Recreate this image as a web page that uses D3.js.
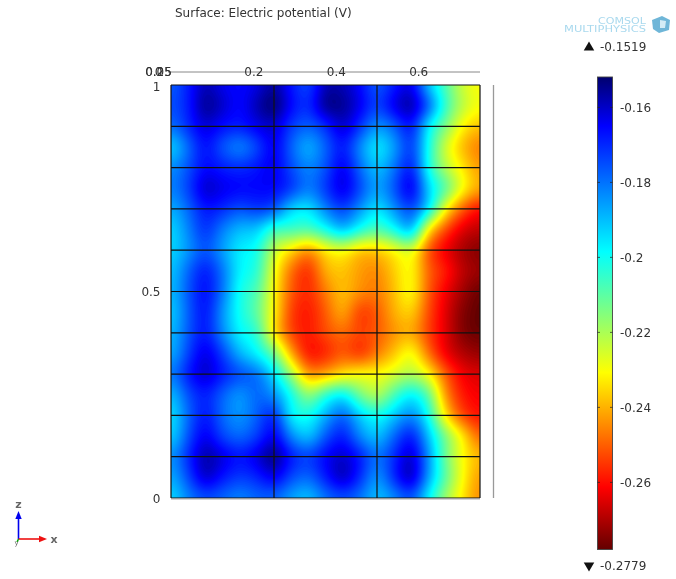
<!DOCTYPE html>
<html><head><meta charset="utf-8">
<script src="https://cdn.jsdelivr.net/npm/d3@7"></script>
<style>html,body{margin:0;padding:0;background:#fff}svg{display:block}
text{font-family:"DejaVu Sans",sans-serif;fill:#333}</style></head>
<body><svg id="c" width="676" height="579"></svg>
<script>
const titleText = "Surface: Electric potential (V)";
const xTickValues = [0.2, 0.4, 0.6];
const xCrowdedLabels = ["0", "0.05", "0.25"];
const yTickValues = [0, 0.5, 1];
const xGridValues = [0, 0.25, 0.5, 0.75];
const yGridValues = [0,0.1,0.2,0.3,0.4,0.5,0.6,0.7,0.8,0.9,1];
const legendTicks = [-0.16,-0.18,-0.2,-0.22,-0.24,-0.26];
const maxValue = -0.1519, minValue = -0.2779;
const xExtent = [0, 0.75], yExtent = [0, 1];

// Electric potential (V), top row (z = 1) to bottom (z = 0).
const z100=[-.177,-.168,-.158,-.163,-.165,-.162,-.156,-.167,-.173,-.158,-.158,-.165,-.176,-.168,-.163,-.190,-.208,-.224,-.230];
const z095=[-.175,-.168,-.155,-.160,-.165,-.158,-.152,-.165,-.170,-.155,-.155,-.163,-.173,-.163,-.157,-.178,-.205,-.222,-.230];
const z090=[-.180,-.170,-.161,-.166,-.168,-.163,-.160,-.172,-.177,-.170,-.160,-.171,-.184,-.177,-.167,-.196,-.214,-.231,-.238];
const z085=[-.192,-.178,-.166,-.175,-.181,-.173,-.163,-.177,-.187,-.177,-.167,-.182,-.195,-.185,-.172,-.200,-.224,-.238,-.246];
const z080=[-.184,-.175,-.165,-.168,-.170,-.167,-.163,-.174,-.182,-.175,-.163,-.178,-.190,-.180,-.168,-.200,-.220,-.233,-.243];
const z075=[-.182,-.173,-.160,-.163,-.165,-.165,-.165,-.172,-.181,-.172,-.162,-.174,-.186,-.176,-.163,-.192,-.210,-.230,-.242];
const z070=[-.188,-.178,-.167,-.170,-.175,-.172,-.176,-.192,-.195,-.182,-.173,-.184,-.195,-.184,-.174,-.196,-.230,-.250,-.260];
const z065=[-.193,-.182,-.171,-.181,-.189,-.191,-.205,-.206,-.208,-.200,-.190,-.201,-.208,-.200,-.190,-.232,-.252,-.264,-.268];
const z060=[-.193,-.184,-.175,-.185,-.196,-.200,-.222,-.234,-.243,-.232,-.228,-.236,-.236,-.230,-.225,-.250,-.262,-.270,-.274];
const z055=[-.191,-.178,-.168,-.180,-.197,-.203,-.228,-.247,-.255,-.240,-.237,-.242,-.244,-.236,-.230,-.249,-.258,-.268,-.272];
const z050=[-.190,-.176,-.166,-.180,-.200,-.208,-.230,-.250,-.256,-.246,-.238,-.244,-.246,-.238,-.230,-.250,-.262,-.271,-.277];
const z045=[-.192,-.177,-.167,-.184,-.200,-.210,-.231,-.253,-.258,-.250,-.241,-.253,-.250,-.240,-.236,-.252,-.264,-.274,-.2779];
const z040=[-.190,-.176,-.167,-.182,-.197,-.204,-.232,-.252,-.258,-.252,-.248,-.253,-.250,-.243,-.240,-.253,-.264,-.274,-.277];
const z035=[-.188,-.173,-.162,-.173,-.188,-.197,-.212,-.240,-.258,-.256,-.250,-.254,-.246,-.237,-.229,-.247,-.262,-.269,-.272];
const z030=[-.182,-.168,-.160,-.168,-.175,-.180,-.195,-.218,-.242,-.240,-.233,-.230,-.230,-.225,-.220,-.230,-.250,-.262,-.265];
const z025=[-.190,-.175,-.168,-.177,-.184,-.178,-.184,-.200,-.216,-.204,-.197,-.212,-.220,-.207,-.197,-.210,-.243,-.258,-.262];
const z020=[-.195,-.178,-.167,-.178,-.184,-.177,-.170,-.196,-.200,-.188,-.178,-.192,-.200,-.191,-.183,-.200,-.233,-.252,-.259];
const z015=[-.193,-.175,-.163,-.173,-.178,-.172,-.163,-.182,-.190,-.176,-.168,-.182,-.190,-.178,-.168,-.190,-.214,-.233,-.250];
const z010=[-.185,-.170,-.157,-.162,-.167,-.162,-.154,-.168,-.173,-.165,-.160,-.168,-.180,-.170,-.160,-.184,-.212,-.230,-.240];
const z005=[-.188,-.174,-.160,-.167,-.172,-.169,-.163,-.174,-.178,-.168,-.159,-.170,-.184,-.170,-.159,-.186,-.210,-.230,-.243];
const z000=[-.194,-.182,-.175,-.178,-.182,-.178,-.178,-.186,-.190,-.180,-.175,-.180,-.190,-.183,-.176,-.197,-.218,-.233,-.245];
const potentialRows=[z100,z095,z090,z085,z080,z075,z070,z065,z060,z055,z050,z045,z040,z035,z030,z025,z020,z015,z010,z005,z000];

// Rainbow colour ramp.
const rampValues=[-0.1519,-0.165,-0.1985,-0.2146,-0.2307,-0.246,-0.2613,-0.2779];
const rampColors=["#00006e","#0000ff","#00ffff","#80ff80","#ffff00","#ff8000","#ff0000","#640000"];

const svg=d3.select("#c");
const inner=svg.append("g").style("filter","blur(0.4px)");
const x=d3.scaleLinear().domain(xExtent).range([171,480]);
const y=d3.scaleLinear().domain(yExtent).range([498,85]);
const color=d3.scaleLinear().domain(rampValues).range(rampColors).interpolate(d3.interpolateRgb).clamp(true);

// Render-time smoothing of the read grid (Catmull-Rom in value space, then a light blur).
const nR=potentialRows.length,nC=potentialRows[0].length;
const cr=(a,b,c,d,t)=>0.5*((2*b)+(-a+c)*t+(2*a-5*b+4*c-d)*t*t+(-a+3*b-3*c+d)*t*t*t);
const at=(r,c)=>potentialRows[Math.max(0,Math.min(nR-1,r))][Math.max(0,Math.min(nC-1,c))];
function sample(ry,cx){
  const r0=Math.floor(ry),c0=Math.floor(cx),tr=ry-r0,tc=cx-c0,col=[];
  for(let k=-1;k<=2;k++) col.push(cr(at(r0+k,c0-1),at(r0+k,c0),at(r0+k,c0+1),at(r0+k,c0+2),tc));
  return cr(col[0],col[1],col[2],col[3],tr);
}
const W=206,H=276,field=new Float64Array(W*H);
for(let j=0;j<H;j++)for(let i=0;i<W;i++)
  field[j*W+i]=sample((j+.5)/H*(nR-1),(i+.5)/W*(nC-1));
d3.blur2({data:field,width:W,height:H},3);
const levels=d3.range(0,141).map(i=>minValue+(maxValue-minValue)*i/140);
const contours=d3.contours().size([W,H]).thresholds(levels)(field);
const gx=d3.scaleLinear().domain([0,W]).range(xExtent),gy=d3.scaleLinear().domain([0,H]).range([1,0]);
const geo=d3.geoPath(d3.geoTransform({point(px,py){this.stream.point(x(gx(px)),y(gy(py)));}}));
svg.append("defs").append("clipPath").attr("id","plotClip").append("rect")
  .attr("x",x(0)).attr("y",y(1)).attr("width",x(.75)-x(0)).attr("height",y(0)-y(1));
const plot=inner.append("g").attr("clip-path","url(#plotClip)");
plot.append("rect").attr("x",x(0)).attr("y",y(1)).attr("width",x(.75)-x(0)).attr("height",y(0)-y(1)).attr("fill",color(minValue));
plot.selectAll("path").data(contours).join("path").attr("d",geo).attr("fill",d=>color(d.value));

// mesh
inner.append("g").selectAll("line").data(yGridValues).join("line")
  .attr("x1",x(0)).attr("x2",x(.75)).attr("y1",d=>y(d)).attr("y2",d=>y(d)).attr("stroke","#111").attr("stroke-width",1.2);
inner.append("g").selectAll("line").data(xGridValues).join("line")
  .attr("x1",d=>x(d)).attr("x2",d=>x(d)).attr("y1",y(1)).attr("y2",y(0)).attr("stroke","#111").attr("stroke-width",1.2);
inner.append("line").attr("x1",x(.75)+13.5).attr("x2",x(.75)+13.5).attr("y1",y(1)).attr("y2",y(0)).attr("stroke","#999").attr("stroke-width",1.3);
inner.append("line").attr("x1",x(0)).attr("x2",x(.75)).attr("y1",y(0)+1).attr("y2",y(0)+1).attr("stroke","#aaa").attr("stroke-width",1);

// axes
const topAxis=d3.axisTop(x).tickValues(xTickValues).tickSize(0).tickPadding(0).tickFormat(d3.format(".1f"));
const gTop=inner.append("g").attr("transform","translate(0,72)").call(topAxis);
gTop.select(".domain").remove();
gTop.selectAll("text").attr("dy","0.36em").attr("font-size",12).attr("font-family",null);
gTop.append("line").attr("x1",168).attr("x2",480).attr("stroke","#888").lower();
inner.append("g").selectAll("text").data(xCrowdedLabels).join("text")
  .attr("x",158.5).attr("y",72).attr("dy","0.36em").attr("text-anchor","middle").attr("font-size",12).text(d=>d);
const leftAxis=d3.axisLeft(y).tickValues(yTickValues).tickSize(0).tickPadding(0).tickFormat(d3.format("~g"));
const gLeft=inner.append("g").attr("transform","translate(160.5,0)").call(leftAxis);
gLeft.select(".domain").remove();
gLeft.selectAll("text").attr("font-size",12).attr("font-family",null).attr("dy","0.36em");
gLeft.selectAll(".tick").filter(d=>d===1).select("text").attr("y",1);
inner.append("text").attr("x",175).attr("y",17).attr("font-size",12).text(titleText);

// colour bar
const barY=d3.scaleLinear().domain([maxValue,minValue]).range([77,549.5]);
const lg=svg.select("defs").append("linearGradient").attr("id","rampGrad").attr("x1",0).attr("x2",0).attr("y1",0).attr("y2",1);
const barPos=d3.scaleLinear().domain([maxValue,minValue]).range([0,1]);
lg.selectAll("stop").data(rampValues).join("stop").attr("offset",d=>barPos(d)).attr("stop-color",d=>color(d));
inner.append("rect").attr("x",597.5).attr("y",barY(maxValue)).attr("width",15).attr("height",barY(minValue)-barY(maxValue))
  .attr("fill","url(#rampGrad)").attr("stroke","#444").attr("stroke-width",.9);
const barAxis=d3.axisRight(barY).tickValues(legendTicks).tickSize(0).tickPadding(0);
const gBar=inner.append("g").attr("transform","translate(620,0)").call(barAxis);
gBar.select(".domain").remove();
gBar.selectAll("text").attr("font-size",12).attr("font-family",null).attr("dy","0.36em").text(d=>String(d));
const tickMarks=inner.append("g");
legendTicks.forEach(v=>{[[597.5,600],[610,612.5]].forEach(p=>{
  tickMarks.append("line").attr("x1",p[0]).attr("x2",p[1]).attr("y1",barY(v)).attr("y2",barY(v)).attr("stroke","#222").attr("stroke-width",.7);});});
inner.append("path").attr("d",d3.symbol(d3.symbolTriangle,48)()).attr("transform","translate(589,47.5)").attr("fill","#111");
inner.append("path").attr("d",d3.symbol(d3.symbolTriangle,48)()).attr("transform","translate(589,565.5) rotate(180)").attr("fill","#111");
inner.append("text").attr("x",600).attr("y",47).attr("dy","0.36em").attr("font-size",12).text(String(maxValue));
inner.append("text").attr("x",600).attr("y",566).attr("dy","0.36em").attr("font-size",12).text(String(minValue));

// logo
const logo=inner.append("g");
logo.append("text").attr("x",598).attr("y",23.5).attr("font-size",9).attr("textLength",48).attr("lengthAdjust","spacingAndGlyphs").style("fill","#a9d9ee").text("COMSOL");
logo.append("text").attr("x",564).attr("y",32).attr("font-size",9).attr("textLength",82).attr("lengthAdjust","spacingAndGlyphs").style("fill","#a9d9ee").text("MULTIPHYSICS");
logo.append("path").attr("d","M652,20 L662,16 L670,20 L669,30 L659,33 L653,29 Z").attr("fill","#6fb6d8");
logo.append("path").attr("d","M660,20 L666,21 L665,28 L660,28 Z").attr("fill","#d3ecf6");

// triad
const triad=inner.append("g");
function arrow(x1,y1,x2,y2,c){
  const a=Math.atan2(y2-y1,x2-x1),L=8,w=3.2;
  triad.append("line").attr("x1",x1).attr("y1",y1).attr("x2",x2-L*.8*Math.cos(a)).attr("y2",y2-L*.8*Math.sin(a)).attr("stroke",c).attr("stroke-width",1.6);
  const p=[[x2,y2],[x2-L*Math.cos(a)+w*Math.sin(a),y2-L*Math.sin(a)-w*Math.cos(a)],[x2-L*Math.cos(a)-w*Math.sin(a),y2-L*Math.sin(a)+w*Math.cos(a)]];
  triad.append("polygon").attr("points",p.join(" ")).attr("fill",c);
}
arrow(18.5,539,18.5,511,"#0000ee");
arrow(18.5,539,47,539,"#ee1111");
triad.append("line").attr("x1",18.5).attr("y1",539).attr("x2",17).attr("y2",542).attr("stroke","#0a0").attr("stroke-width",1.6);
triad.append("text").attr("x",18.5).attr("y",504).attr("dy","0.36em").attr("text-anchor","middle").attr("font-size",11).attr("font-weight","bold").style("fill","#666").text("z");
triad.append("text").attr("x",54).attr("y",539.5).attr("dy","0.36em").attr("text-anchor","middle").attr("font-size",11).attr("font-weight","bold").style("fill","#666").text("x");
triad.append("text").attr("x",16.5).attr("y",545).attr("text-anchor","middle").attr("font-size",7).style("fill","#666").text("y");
</script></body></html>
